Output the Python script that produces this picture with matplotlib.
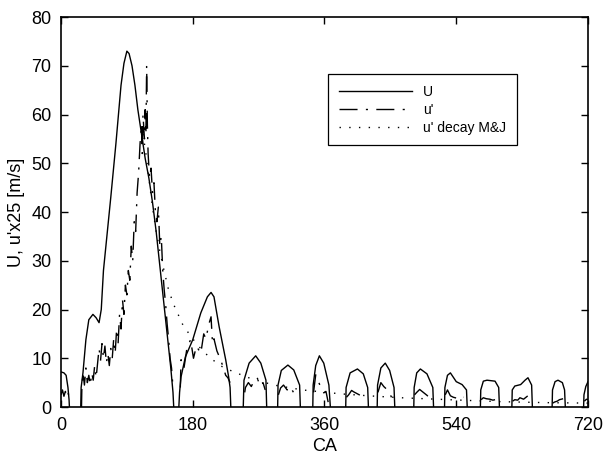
import numpy as np
import matplotlib.pyplot as plt

plt.rcParams['font.family'] = ['Liberation Sans', 'DejaVu Sans']

# mean velocity U, one list of (CA, U) points per intake/flow event
u_arches = [
    [(0, 7.2), (4, 7.0), (7, 6.5), (9.5, 4.0), (11, 1.5), (11.5, 0)],
    [(27, 0), (27.5, 4), (30, 7), (34, 13.8), (38, 17.9), (43.6, 19), (48, 18.3),
     (52, 17.3), (55, 20), (58, 28), (62, 34), (68, 43), (75, 54), (82, 66),
     (86, 70.5), (90, 73), (93, 72.5), (97, 70), (101, 66), (105, 61), (110, 56),
     (115, 51), (120, 47), (125, 42), (130, 36), (135, 29), (140, 22), (145, 15),
     (150, 8), (153, 3), (154, 0)],
    [(161, 0), (162, 3), (164, 6.2), (170, 10.3), (180, 13.8), (191, 19.3),
     (200, 22.6), (205, 23.5), (209, 22.6), (216, 16.5), (225, 9.7), (229, 6.2),
     (231, 4), (232, 0)],
    [(249, 0), (250, 5.5), (257, 9), (266, 10.5), (273, 9), (280, 5.5), (281, 0)],
    [(296, 0), (296.5, 4.5), (301, 7.5), (310, 8.6), (318, 7.6), (326, 4.5), (327, 0)],
    [(344, 0), (344.5, 4.5), (348, 8.5), (353, 10.5), (359, 9), (366, 4.5), (368, 0)],
    [(389, 0), (389.5, 4), (395, 7), (405, 7.8), (413, 6.8), (419, 4), (420, 0)],
    [(432, 0), (432.5, 4.5), (437, 8), (443, 9), (449, 7.5), (455, 4), (456, 0)],
    [(482, 0), (482.5, 4), (486, 7), (491, 7.8), (500, 6.8), (508, 4), (509, 0)],
    [(524, 0), (524.5, 4), (528, 6.5), (532, 7), (540, 5.2), (548, 4.6), (554, 3.5), (555, 0)],
    [(573, 0), (573.5, 3.5), (577, 5.3), (582, 5.5), (593, 5.3), (598, 4), (599, 0)],
    [(616, 0), (616.5, 3.5), (620, 4.3), (628, 4.6), (634, 5.5), (638, 6), (643, 4.5), (644, 0)],
    [(671, 0), (671.5, 3.5), (675, 5.2), (679, 5.5), (685, 5), (688, 3.5), (689, 0)],
    [(714, 0), (714.5, 2.5), (717, 4.2), (720, 5.2)],
]

# turbulence intensity u' (x25)
up_arches = [
    [(0, 2.5), (2, 3.5), (4, 2.2), (6, 3.2), (8, 2.0), (10, 2.8), (11, 1.0)],
    [(28, 0), (28.5, 4), (30, 7), (32, 4.5), (34, 8), (36, 5), (38, 6.5), (40, 4.5),
     (42, 7), (44, 5.5), (46, 8.5), (48, 6), (50, 9), (52, 12), (54, 9.5), (56, 13),
     (58, 10), (60, 12.5), (62, 9), (64, 11), (66, 8.5), (68, 12), (70, 10), (72, 14),
     (74, 11), (76, 16), (78, 13), (80, 19), (82, 16), (84, 22), (86, 19), (88, 25),
     (90, 23), (92, 28), (94, 26), (96, 33), (98, 30), (100, 38), (102, 36), (104, 44),
     (106, 48), (108, 54), (110, 58), (111, 52), (112, 60), (114, 55), (115, 61),
     (116, 56), (117, 70), (118, 58), (119, 52), (121, 47), (123, 49), (125, 44),
     (127, 46), (129, 40), (131, 38), (133, 41), (135, 33), (137, 35), (139, 28),
     (141, 24), (143, 21), (145, 17), (147, 14), (149, 10), (151, 8), (153, 4)],
    [(163, 4), (164, 9.7), (168, 8), (172, 12), (177, 13.8), (181, 10), (185, 12.5),
     (191, 11), (195, 15), (198, 14), (202, 17), (205, 18.5), (207, 13), (209, 14),
     (213, 11.5), (218, 9.7), (222, 8), (225, 6.5), (228, 6), (231, 5)],
    [(251, 3), (252, 4), (256, 5), (260, 4.2), (264, 5.5), (268, 6), (272, 4.5), (276, 5), (279, 3.5)],
    [(297, 2.5), (300, 3.9), (304, 4.5), (309, 3.5), (313, 4.2), (318, 2.9), (324, 2.6)],
    [(345, 3), (348, 6.6), (351, 5.5), (355, 4), (359, 2.9), (362, 3.2), (365, 1)],
    [(390, 2), (393, 2.5), (397, 3.4), (400, 3.1), (405, 2.7), (410, 2.3), (418, 1.9)],
    [(433, 3), (437, 5), (441, 4.2), (446, 3.5), (450, 2.5), (453, 1.5)],
    [(483, 2.5), (486, 3), (490, 3.6), (495, 3), (500, 2.4), (504, 1.8)],
    [(525, 2.5), (528, 3.5), (532, 2.3), (536, 2.0), (541, 1.8), (546, 2.3), (550, 2)],
    [(574, 1.5), (577, 1.9), (581, 1.7), (586, 1.6), (590, 1.4), (593, 1.5)],
    [(617, 1.2), (620, 1.5), (624, 1.4), (627, 1.9), (632, 1.6), (637, 2.2), (641, 2.5)],
    [(672, 0.8), (674, 1.0), (678, 1.2), (681, 1.5), (686, 1.7)],
    [(715, 1.2), (718, 1.6), (720, 1.5)],
]

# u' decay model (Morse & Jones)
mj_ca = [112, 116, 120, 125, 130, 135, 140, 147, 154, 160, 166, 175, 185, 195, 207,
         220, 236, 260, 291, 330, 382, 420, 464, 530, 600, 660, 720]
mj_val = [56, 52, 47, 41, 36, 32, 28.5, 24, 21, 19, 17, 15, 13, 11.3, 9.7,
          8.3, 7.2, 5.8, 4.5, 3.5, 2.7, 2.3, 1.9, 1.5, 1.1, 0.9, 0.8]


def join(arches):
    xs, ys = [], []
    for arch in arches:
        for x, y in arch:
            xs.append(x)
            ys.append(y)
        xs.append(np.nan)
        ys.append(np.nan)
    return np.array(xs), np.array(ys)


u_x, u_y = join(u_arches)
up_x, up_y = join(up_arches)

fig = plt.figure(figsize=(6.04, 4.57), dpi=100)
ax = fig.add_axes([0.101, 0.1094, 0.8725, 0.8534])

ax.plot(u_x, u_y, color='black', lw=1.0, ls='-', label='U')
ax.plot(up_x, up_y, color='black', lw=1.0, ls=(0, (13, 6, 1.5, 6)), label="u'")
ax.plot(mj_ca, mj_val, color='black', lw=1.0, ls=(0, (1, 6)), label="u' decay M&J")

ax.set_xlim(0, 720)
ax.set_ylim(0, 80)
ax.set_xticks([0, 180, 360, 540, 720])
ax.set_yticks(np.arange(0, 81, 10))
ax.tick_params(direction='in', top=True, right=True, length=5, width=1,
               labelsize=13, pad=7)
for s in ax.spines.values():
    s.set_linewidth(1.2)

ax.set_xlabel('CA', fontsize=13, labelpad=3)
ax.set_ylabel("U, u'x25 [m/s]", fontsize=13, labelpad=4)

leg = ax.legend(loc='upper left', bbox_to_anchor=(0.507, 0.853), fontsize=10,
                handlelength=5.3, handletextpad=0.8, labelspacing=0.3,
                borderpad=0.75, borderaxespad=0, fancybox=False, framealpha=1,
                edgecolor='black')
leg.get_frame().set_linewidth(0.9)

plt.savefig('out.png', dpi=100)
